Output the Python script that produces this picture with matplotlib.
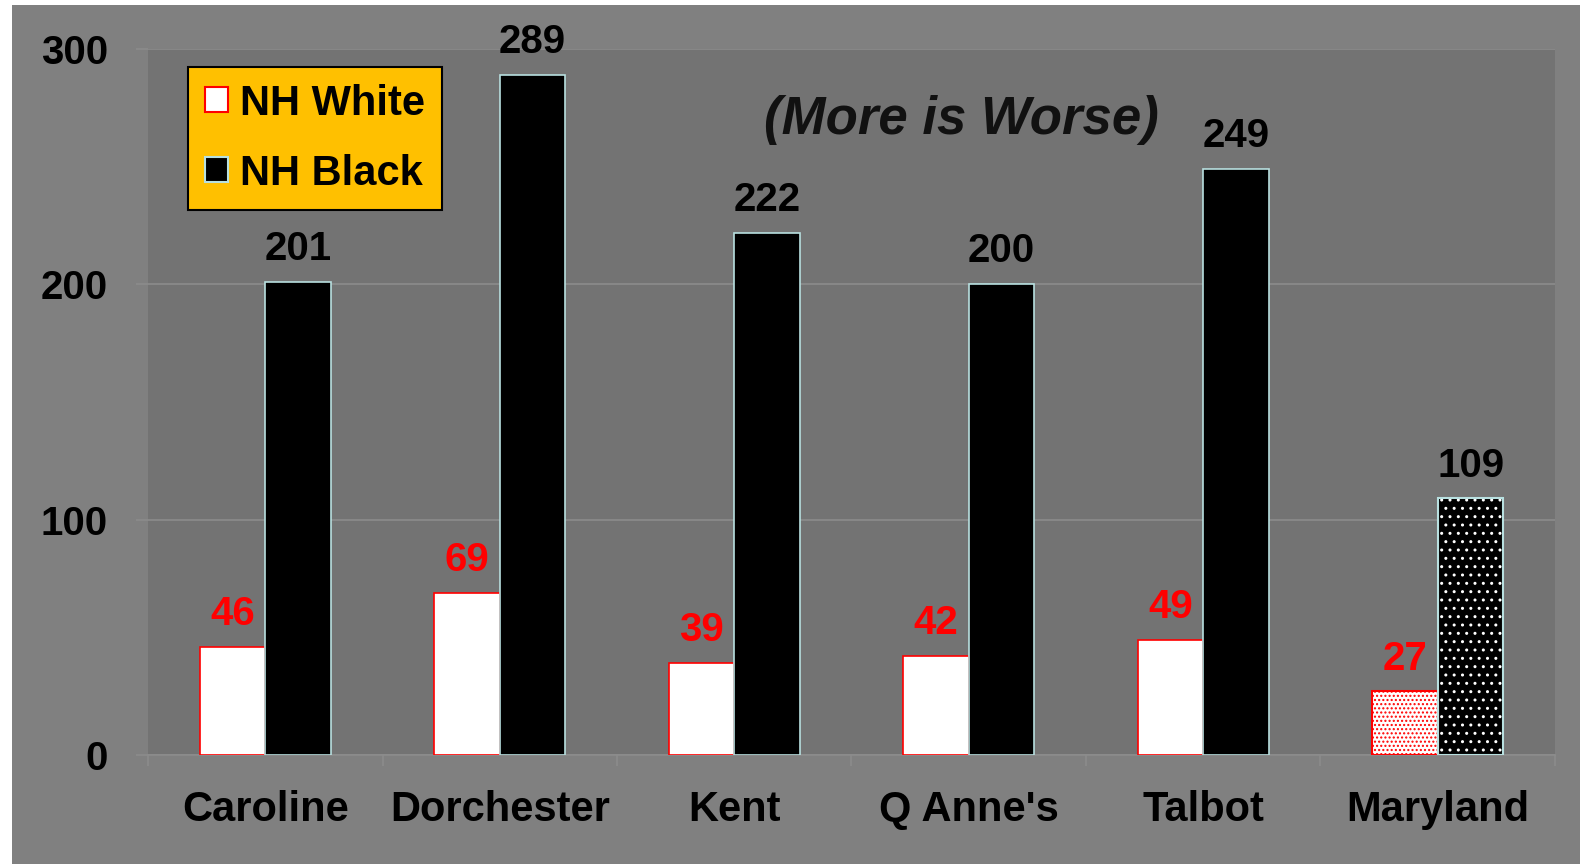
import numpy as np
import matplotlib.pyplot as plt
from matplotlib.patches import Rectangle, Patch

# data
counties = ["Caroline", "Dorchester", "Kent", "Q Anne's", "Talbot", "Maryland"]
nh_white = [46, 69, 39, 42, 49, 27]
nh_black = [201, 289, 222, 200, 249, 109]
y_ticks = [0, 100, 200, 300]

plt.rcParams['font.family'] = ['Liberation Sans', 'DejaVu Sans']
plt.rcParams['hatch.linewidth'] = 1.0

fig = plt.figure(figsize=(15.8, 8.64), dpi=100, facecolor='white')
# grey slide background, leaving thin white strip top/left
fig.patches.append(Rectangle((12 / 1580, 0), 1 - 12 / 1580, 1 - 5 / 864,
                             transform=fig.transFigure, facecolor='#808080',
                             edgecolor='none', zorder=-10))

ax = fig.add_axes([148 / 1580, 109 / 864, 1407 / 1580, 706 / 864])
ax.set_facecolor('#737373')

x = np.arange(len(counties))
w = 0.28
edge_black = '#b8e0e0'
grid_c = '#8c8c8c'
fs = 29

for i in range(len(counties)):
    if counties[i] == "Maryland":
        ax.bar(x[i] - w / 2, nh_white[i], w, color='white', edgecolor='red',
               hatch='....', linewidth=0, zorder=3)
        ax.bar(x[i] - w / 2, nh_white[i], w, color='none', edgecolor='red',
               linewidth=1.5, zorder=4)
        ax.bar(x[i] + w / 2, nh_black[i], w, color='black', edgecolor='white',
               hatch='..', linewidth=0, zorder=3)
        ax.bar(x[i] + w / 2, nh_black[i], w, color='none', edgecolor=edge_black,
               linewidth=1.5, zorder=4)
    else:
        ax.bar(x[i] - w / 2, nh_white[i], w, color='white', edgecolor='red',
               linewidth=1.2, zorder=3)
        ax.bar(x[i] + w / 2, nh_black[i], w, color='black', edgecolor=edge_black,
               linewidth=1.2, zorder=3)
    ax.annotate(str(nh_white[i]), (x[i] - w / 2, nh_white[i]),
                xytext=(0, 10), textcoords='offset points', ha='center',
                va='bottom', color='red', fontsize=fs, fontweight='bold')
    ax.annotate(str(nh_black[i]), (x[i] + w / 2, nh_black[i]),
                xytext=(0, 10), textcoords='offset points', ha='center',
                va='bottom', color='black', fontsize=fs, fontweight='bold')

ax.set_xlim(-0.5, len(counties) - 0.5)
ax.set_ylim(0, 300)
ax.set_yticks(y_ticks)
ax.set_yticklabels([str(t) for t in y_ticks], fontsize=fs, fontweight='bold')
ax.yaxis.grid(True, color=grid_c, linewidth=1.2, zorder=0)
ax.set_axisbelow(True)

ax.set_xticks(x)
ax.set_xticklabels(counties, fontsize=30, fontweight='bold')
ax.set_xticks(np.arange(-0.5, len(counties)), minor=True)
ax.tick_params(axis='x', which='major', length=0, pad=25)
ax.tick_params(axis='x', which='minor', length=8, color=grid_c, width=1.2)
ax.tick_params(axis='y', length=9, color=grid_c, width=1.2, pad=20)

for s in ['top', 'right', 'left']:
    ax.spines[s].set_visible(False)
ax.spines['bottom'].set_color(grid_c)
ax.spines['bottom'].set_linewidth(1.2)

ax.text(0.578, 0.90, "(More is Worse)", transform=ax.transAxes, ha='center',
        va='center', fontsize=38, fontweight='bold', style='italic',
        color='#111111')

# legend
handles = [Patch(facecolor='white', edgecolor='red', linewidth=1.5, label='NH White'),
           Patch(facecolor='black', edgecolor=edge_black, linewidth=1.5, label='NH Black')]
leg = ax.legend(handles=handles, loc='upper left', bbox_to_anchor=(0.0284, 0.9745),
                borderaxespad=0, prop={'size': 30, 'weight': 'bold'}, frameon=True,
                fancybox=False, handlelength=0.55, handleheight=0.55,
                handletextpad=0.3, labelspacing=0.72, borderpad=0.4)
leg.get_frame().set_facecolor('#ffc000')
leg.get_frame().set_edgecolor('black')
leg.get_frame().set_linewidth(1.5)
leg.get_frame().set_alpha(1)

fig.savefig('out.png', dpi=100, facecolor=fig.get_facecolor())
